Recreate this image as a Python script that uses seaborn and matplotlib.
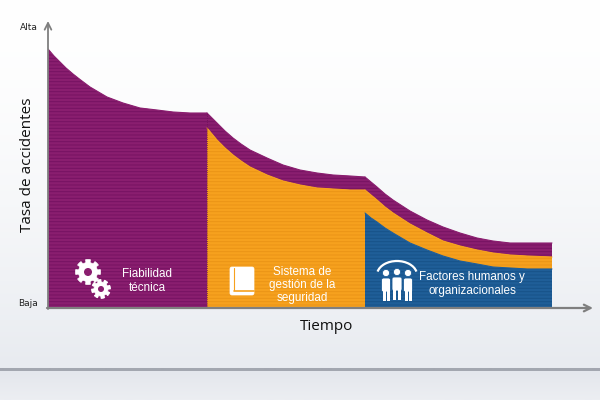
import numpy as np
import pandas as pd
import matplotlib
matplotlib.use("Agg")
import matplotlib.pyplot as plt
import seaborn as sns
from matplotlib.patches import FancyBboxPatch, Circle, Rectangle, Arc, Polygon

# ---------------- data (time offset, accident rate) ----------------
seg1_x = [0, 6, 12, 18, 25, 32, 42, 59, 75, 92, 109, 125, 142, 159]
seg1_purple = [259, 252, 246, 240, 234, 228.5, 221, 211, 205, 200, 198, 196, 195, 195]

seg2_x = [159, 164, 169, 177, 185, 193, 202, 219, 235, 252, 269, 285, 302, 317]
seg2_purple = [195, 190, 185, 177, 170, 164, 158, 150, 143, 138, 135, 133, 132, 131]
seg2_orange = [180, 174, 168, 160, 153, 147, 141, 133, 127, 123, 120, 119, 118, 118]

seg3_x = [317, 323, 329, 337, 345, 362, 379, 395, 412, 429, 445, 462, 479, 504]
seg3_purple = [131, 126, 121, 114, 108, 97, 88, 81, 75, 70, 67, 65, 65, 65]
seg3_orange = [118, 113, 108, 101, 95, 84, 75, 67, 62, 58, 55, 53, 52, 51]
seg3_blue = [95, 90, 86, 80, 75, 65, 58, 52, 47, 44, 41, 40, 39, 39]

labels = ["Fiabilidad\ntécnica", "Sistema de\ngestión de la\nseguridad",
          "Factores humanos y\norganizacionales"]
y_ticks = ["Alta", "Baja"]
x_title = "Tiempo"
y_title = "Tasa de accidentes"

PURPLE, PURPLE_S = "#8A1E6F", "#761262"
ORANGE, ORANGE_S = "#F6A11E", "#EA9416"
BLUE, BLUE_S = "#1F5E98", "#175389"

sns.set_theme(style="white")
plt.rcParams["font.family"] = ["DejaVu Sans"]
plt.rcParams["hatch.linewidth"] = 0.7

fig = plt.figure(figsize=(6, 4), dpi=100)

# ---------------- background ----------------
bg = fig.add_axes([0, 0, 1, 1], zorder=-10)
bg.set_xlim(0, 600); bg.set_ylim(400, 0); bg.axis("off")
top = np.array([255, 255, 255]) / 255
mid = np.array([232, 235, 240]) / 255
rows = np.linspace(0, 1, 368)[:, None]
grad1 = top + (mid - top) * rows ** 1.6
img = np.zeros((400, 1, 3))
img[:368, 0, :] = grad1
img[368:371, 0, :] = np.array([163, 167, 176]) / 255
low = np.linspace(0, 1, 29)[:, None]
c_a = np.array([228, 231, 237]) / 255
c_b = np.array([236, 238, 242]) / 255
img[371:, 0, :] = c_a + (c_b - c_a) * low
bg.imshow(img, extent=(0, 600, 400, 0), aspect="auto", interpolation="bilinear")

# ---------------- main chart ----------------
ax = fig.add_axes([48 / 600, 1 - 308 / 400, 545 / 600, 287 / 400])
ax.patch.set_alpha(0)
ax.set_xlim(0, 545); ax.set_ylim(0, 287)


def band(x, lo, hi, fc, sc):
    ax.fill_between(x, lo, hi, facecolor=fc, edgecolor=sc, hatch="-----",
                    linewidth=0, zorder=2)


band(seg1_x, [0] * len(seg1_x), seg1_purple, PURPLE, PURPLE_S)
band(seg2_x, seg2_orange, seg2_purple, PURPLE, PURPLE_S)
band(seg2_x, [0] * len(seg2_x), seg2_orange, ORANGE, ORANGE_S)
band(seg3_x, seg3_orange, seg3_purple, PURPLE, PURPLE_S)
band(seg3_x, seg3_blue, seg3_orange, ORANGE, ORANGE_S)
band(seg3_x, [0] * len(seg3_x), seg3_blue, BLUE, BLUE_S)

df = pd.concat([
    pd.DataFrame({"t": seg1_x, "v": seg1_purple, "s": "p1"}),
    pd.DataFrame({"t": seg2_x, "v": seg2_purple, "s": "p2"}),
    pd.DataFrame({"t": seg2_x, "v": seg2_orange, "s": "o2"}),
    pd.DataFrame({"t": seg3_x, "v": seg3_purple, "s": "p3"}),
    pd.DataFrame({"t": seg3_x, "v": seg3_orange, "s": "o3"}),
    pd.DataFrame({"t": seg3_x, "v": seg3_blue, "s": "b3"}),
])
pal = {"p1": PURPLE, "p2": PURPLE, "o2": ORANGE, "p3": PURPLE, "o3": ORANGE, "b3": BLUE}
sns.lineplot(data=df, x="t", y="v", hue="s", palette=pal, ax=ax, lw=0.8,
             legend=False, zorder=3)
ax.axvline(seg2_x[0], ymax=seg2_purple[0] / 287, color="#6E1058", lw=0.6,
           ls=(0, (1, 1.5)), zorder=4)

for s in ax.spines.values():
    s.set_visible(False)
ax.set_xticks([]); ax.set_yticks([])
ax.set_xlabel(""); ax.set_ylabel("")
ax.annotate("", xy=(0, 287), xytext=(0, -1),
            arrowprops=dict(arrowstyle="->", color="#7F7F7F", lw=1.3,
                            shrinkA=0, shrinkB=0), annotation_clip=False, zorder=6)
ax.annotate("", xy=(545, 0), xytext=(-1, 0),
            arrowprops=dict(arrowstyle="->", color="#7F7F7F", lw=1.6,
                            shrinkA=0, shrinkB=0), annotation_clip=False, zorder=6)

# ---------------- overlay: texts & icons (pixel coords) ----------------
ov = fig.add_axes([0, 0, 1, 1], zorder=5)
ov.set_xlim(0, 600); ov.set_ylim(400, 0); ov.axis("off"); ov.patch.set_alpha(0)

ov.text(38, 28, y_ticks[0], ha="right", va="center", fontsize=6.5, color="#222222")
ov.text(38, 303, y_ticks[1], ha="right", va="center", fontsize=6.5, color="#222222")
ov.text(28, 165, y_title, ha="center", va="center", rotation=90, fontsize=11,
        color="#111111", family=["Open Sans", "DejaVu Sans"])
ov.text(327, 326, x_title, ha="center", va="center", fontsize=11,
        color="#111111", family=["Open Sans", "DejaVu Sans"])

lab_kw = dict(ha="center", va="center", fontsize=8.4, color="white",
              linespacing=1.15, family=["Liberation Sans", "DejaVu Sans"])
ov.text(147, 281, labels[0], **lab_kw)
ov.text(302, 285, labels[1], **lab_kw)
ov.text(472, 284, labels[2], **lab_kw)


# gears (decorative icon)
def gear(cx, cy, r_out, r_in, r_hole, n, rot=0.0):
    ang = np.linspace(0, 2 * np.pi, n * 40, endpoint=False)
    tooth = (np.cos(n * (ang + rot)) > -0.15).astype(float)
    r = r_in + (r_out - r_in) * tooth
    pts = np.column_stack([cx + r * np.cos(ang), cy + r * np.sin(ang)])
    ov.add_patch(Polygon(pts, closed=True, fc="white", ec="white", lw=0.5))
    ov.add_patch(Circle((cx, cy), r_hole, fc=PURPLE, ec="none"))


gear(88, 272, 12.5, 9.5, 4.0, 8)
gear(101, 289, 9.5, 7.0, 3.0, 8, rot=0.2)

# book
ov.add_patch(FancyBboxPatch((230, 267), 24, 28, boxstyle="round,pad=0,rounding_size=2",
                            fc="white", ec="white", lw=0.5))
ov.add_line(plt.Line2D([234, 254], [290.5, 290.5], color=ORANGE, lw=1.2))
ov.add_line(plt.Line2D([233.5, 233.5], [268, 290], color=ORANGE, lw=0.8))

# people
ov.add_patch(Arc((397, 275), 40, 28, theta1=190, theta2=350, color="white", lw=1.6))
for cx, hy, w in [(386, 273, 9), (397, 272, 10), (408, 273, 9)]:
    ov.add_patch(Circle((cx, hy), 3.6, fc="white", ec=BLUE, lw=0.6))
    ov.add_patch(FancyBboxPatch((cx - w / 2, hy + 5), w, 14,
                                boxstyle="round,pad=0,rounding_size=2",
                                fc="white", ec=BLUE, lw=0.6))
    ov.add_patch(Rectangle((cx - w / 2 + 1, hy + 17), 3, 11, fc="white", ec="none"))
    ov.add_patch(Rectangle((cx + w / 2 - 4, hy + 17), 3, 11, fc="white", ec="none"))

fig.savefig("out.png", dpi=100)
